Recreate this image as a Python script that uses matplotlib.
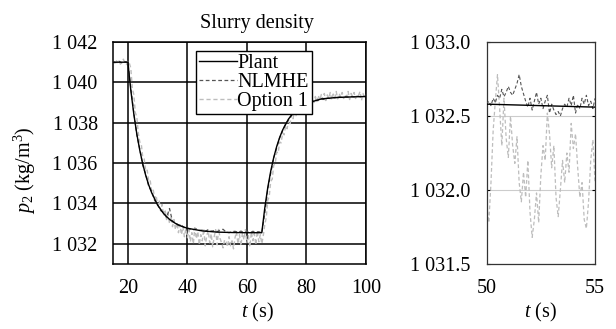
import numpy as np
import matplotlib
matplotlib.use("Agg")
import matplotlib.pyplot as plt
from matplotlib.ticker import FuncFormatter

# ---------------- data ----------------
plant_t = [15, 20, 21, 22, 23, 24, 25, 26, 27, 28, 30, 32, 34, 36, 38, 40, 45, 50, 55, 60, 65,
           66, 67, 68, 69, 70, 71, 72, 74, 76, 78, 80, 85, 90, 95, 100]
plant_v = [1041.0, 1041.0, 1039.60, 1038.43, 1037.45, 1036.64, 1035.96, 1035.39, 1034.92, 1034.53,
           1033.92, 1033.50, 1033.21, 1033.01, 1032.87, 1032.77, 1032.64, 1032.58, 1032.56, 1032.55,
           1032.55, 1033.77, 1034.78, 1035.60, 1036.27, 1036.82, 1037.27, 1037.64, 1038.19, 1038.55,
           1038.80, 1038.96, 1039.18, 1039.25, 1039.28, 1039.30]

nlmhe_t = list(range(15, 101))
nlmhe_v = [1041.02, 1040.98, 1041.05, 1040.97, 1041.03,
           1041.00, 1039.70, 1038.50, 1037.40, 1036.70, 1035.90, 1035.45, 1034.85, 1034.60, 1034.15,
           1033.95, 1033.65, 1033.55, 1033.30, 1033.75, 1033.10, 1033.05, 1032.90, 1032.92, 1032.80,
           1032.78,
           1032.72, 1032.70, 1032.74, 1032.66, 1032.68, 1032.62, 1032.70, 1032.63, 1032.65,
           1032.60, 1032.68, 1032.72, 1032.58, 1032.55, 1032.60, 1032.62, 1032.57, 1032.63, 1032.56,
           1032.60, 1032.55, 1032.62, 1032.58, 1032.60,
           1032.55, 1033.50, 1034.70, 1035.50, 1036.25, 1036.75, 1037.25, 1037.60, 1037.95, 1038.15,
           1038.40, 1038.50, 1038.70, 1038.78, 1038.90, 1038.95,
           1039.02, 1039.05, 1039.12, 1039.10, 1039.18, 1039.15, 1039.22, 1039.20, 1039.25, 1039.24,
           1039.28, 1039.25, 1039.30, 1039.27, 1039.30, 1039.28, 1039.32, 1039.29, 1039.30, 1039.31]

opt1_t = np.arange(15.0, 100.01, 0.5)
opt1_v = [1041.05, 1040.95, 1041.12, 1040.98, 1041.08, 1040.90, 1041.02, 1041.15, 1040.96, 1040.88,
          1041.06, 1040.95, 1040.70, 1039.70, 1039.40, 1038.50, 1038.30, 1037.50, 1037.05, 1036.95,
          1036.30, 1036.20, 1035.60, 1035.65, 1035.10, 1035.15, 1034.60, 1034.70, 1034.25, 1034.40,
          1033.90, 1034.15, 1033.65, 1033.95, 1033.40, 1033.70, 1033.20, 1033.50, 1033.00, 1033.35,
          1032.85, 1033.20, 1032.70, 1033.05, 1032.55, 1032.95, 1032.45, 1032.85, 1032.35, 1032.75,
          1032.30, 1032.70, 1032.10, 1032.55, 1032.00, 1032.80, 1032.25, 1032.60, 1031.95, 1032.45,
          1032.15, 1032.75, 1031.90, 1032.40, 1032.65, 1032.05, 1032.50, 1031.85, 1032.35, 1032.70,
          1031.95, 1032.75, 1032.25, 1032.05, 1031.80, 1032.20, 1032.10, 1031.85, 1032.35, 1031.90,
          1032.15, 1031.75, 1032.30, 1032.60, 1032.00, 1032.45, 1031.90, 1032.55, 1032.20, 1032.70,
          1032.05, 1032.40, 1031.85, 1032.60, 1032.15, 1032.50, 1031.95, 1032.65, 1032.10, 1032.45,
          1032.00, 1032.40, 1032.95, 1033.30, 1034.15, 1034.35, 1035.10, 1035.20, 1035.90, 1035.95,
          1036.55, 1036.50, 1037.05, 1037.00, 1037.50, 1037.40, 1037.85, 1037.70, 1038.15, 1037.95,
          1038.40, 1038.20, 1038.60, 1038.35, 1038.75, 1038.55, 1038.90, 1038.65, 1039.00, 1038.75,
          1039.10, 1038.85, 1039.15, 1038.95, 1039.25, 1039.00, 1039.30, 1039.05, 1039.35, 1039.10,
          1039.40, 1039.15, 1039.45, 1039.10, 1039.38, 1039.20, 1039.50, 1039.15, 1039.42, 1039.22,
          1039.55, 1039.18, 1039.45, 1039.25, 1039.50, 1039.20, 1039.40, 1039.28, 1039.55, 1039.15,
          1039.45, 1039.30, 1039.50, 1039.20, 1039.40, 1039.35, 1039.55, 1039.10, 1039.45, 1039.25,
          1039.40]

zoom_t = np.round(np.arange(50.0, 55.01, 0.1), 1)
zoom_opt1_v = [1031.90, 1031.78, 1032.05, 1032.40, 1032.60, 1032.78, 1032.55, 1032.30, 1032.62, 1032.35,
               1032.22, 1032.50, 1032.30, 1032.18, 1032.36, 1032.05, 1031.92, 1032.12, 1031.95, 1032.20,
               1031.85, 1031.68, 1031.80, 1031.98, 1031.78, 1032.10, 1032.30, 1032.20, 1032.52, 1032.38,
               1032.15, 1032.30, 1031.95, 1031.82, 1032.00, 1032.20, 1032.05, 1032.25, 1032.12, 1032.45,
               1032.28, 1032.38, 1032.15, 1031.95, 1032.05, 1031.80, 1031.74, 1031.92, 1032.20, 1032.34,
               1032.05]
zoom_nlmhe_v = [1032.58, 1032.60, 1032.57, 1032.62, 1032.59, 1032.64, 1032.62, 1032.68, 1032.63, 1032.66,
                1032.70, 1032.66, 1032.64, 1032.68, 1032.72, 1032.78, 1032.70, 1032.65, 1032.60, 1032.56,
                1032.62, 1032.54, 1032.60, 1032.66, 1032.58, 1032.62, 1032.55, 1032.60, 1032.64, 1032.52,
                1032.58, 1032.54, 1032.51, 1032.53, 1032.50, 1032.55, 1032.58, 1032.56, 1032.62, 1032.57,
                1032.64, 1032.52, 1032.58, 1032.55, 1032.62, 1032.58, 1032.64, 1032.57, 1032.60, 1032.55,
                1032.62]

labels = ["Plant", "NLMHE", "Option 1"]
title = "Slurry density"

# ---------------- style ----------------
plt.rcParams['font.family'] = ['Liberation Serif', 'DejaVu Serif']
plt.rcParams['mathtext.fontset'] = 'custom'
plt.rcParams['mathtext.rm'] = 'Liberation Serif'
plt.rcParams['mathtext.it'] = 'Liberation Serif:italic'
FS = 14.5

fig = plt.figure(figsize=(6.16, 3.29), dpi=100)
ax1 = fig.add_axes([0.1834, 0.1976, 0.4107, 0.6747])
ax2 = fig.add_axes([0.790, 0.1976, 0.176, 0.6747])

c_plant = 'black'
c_nl = '#555555'
c_op = '#bdbdbd'

def fmt(v, pos, dec=0):
    s = f"{v:.{dec}f}"
    ip = s.split('.')[0]
    rest = s[len(ip):]
    ip = ip[:-3] + ' ' + ip[-3:]
    return ip + rest

# left axes
l1, = ax1.plot(plant_t, plant_v, color=c_plant, lw=1.0, zorder=4)
l2, = ax1.plot(nlmhe_t, nlmhe_v, color=c_nl, lw=0.9, dashes=(3, 2), zorder=3)
l3, = ax1.plot(opt1_t, opt1_v, color=c_op, lw=1.0, dashes=(3, 2), zorder=2)
ax1.set_xlim(15, 100)
ax1.set_ylim(1031, 1042)
ax1.set_xticks([20, 40, 60, 80, 100])
ax1.set_yticks([1032, 1034, 1036, 1038, 1040, 1042])
ax1.yaxis.set_major_formatter(FuncFormatter(lambda v, p: fmt(v, p, 0)))
ax1.grid(True, color='black', lw=1.1)
ax1.set_axisbelow(True)
for s in ax1.spines.values():
    s.set_linewidth(1.1)
ax1.tick_params(length=0, pad=11, labelsize=FS)
ax1.set_xlabel(r'$t$ (s)', fontsize=FS)
ax1.xaxis.set_label_coords(0.573, -0.165)
ax1.set_ylabel(r'$p_2$ (kg/m$^3$)', fontsize=FS)
ax1.yaxis.set_label_coords(-0.296, 0.423)
ax1.set_title(title, fontsize=FS, x=0.57, pad=10)
leg = ax1.legend([l1, l2, l3], labels, loc='upper left', bbox_to_anchor=(0.328, 0.96),
                 fontsize=FS, frameon=True, fancybox=False, framealpha=1, edgecolor='black',
                 handlelength=1.9, handletextpad=0.0, labelspacing=0.0, borderpad=0.15,
                 borderaxespad=0)
leg.get_frame().set_linewidth(1.0)

# right axes
ax2.plot(plant_t, plant_v, color=c_plant, lw=1.0, zorder=4)
ax2.plot(zoom_t, zoom_nlmhe_v, color=c_nl, lw=0.8, dashes=(3, 2), zorder=3)
ax2.plot(zoom_t, zoom_opt1_v, color=c_op, lw=0.9, dashes=(3, 2), zorder=2)
ax2.set_xlim(50, 55)
ax2.set_ylim(1031.5, 1033.0)
ax2.set_xticks([50, 55])
ax2.set_yticks([1031.5, 1032.0, 1032.5, 1033.0])
ax2.yaxis.set_major_formatter(FuncFormatter(lambda v, p: fmt(v, p, 1)))
ax2.grid(True, axis='y', color='#cccccc', lw=0.8)
ax2.set_axisbelow(True)
for s in ax2.spines.values():
    s.set_linewidth(0.9)
    s.set_color('#333333')
ax2.tick_params(axis='y', direction='in', length=2.5, right=True, left=True, pad=12, labelsize=FS)
ax2.tick_params(axis='x', length=0, pad=11, labelsize=FS)
ax2.set_xlabel(r'$t$ (s)', fontsize=FS)
ax2.xaxis.set_label_coords(0.5, -0.165)

fig.savefig('out.png', dpi=100)
